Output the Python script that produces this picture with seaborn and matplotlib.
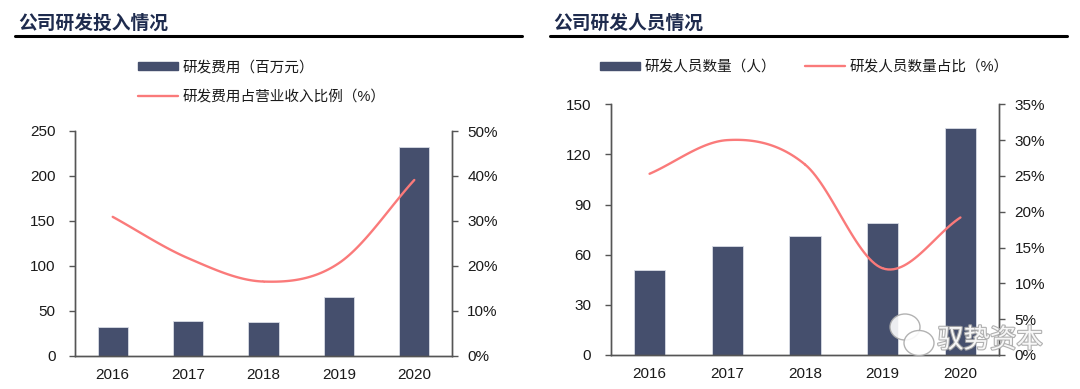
import numpy as np
import pandas as pd
import seaborn as sns
import matplotlib.pyplot as plt
import matplotlib.patheffects as pe
from matplotlib.lines import Line2D
from matplotlib.patches import Patch, Ellipse

# data
years = ['2016', '2017', '2018', '2019', '2020']
rd_cost = [31.5, 38.3, 37.2, 65.8, 232.5]          # 百万元
rd_cost_ratio = [30.9, 21.7, 16.5, 20.6, 39.1]     # %
rd_staff = [51, 65, 71, 79, 136]                   # 人
rd_staff_ratio = [25.3, 30.0, 26.6, 12.1, 19.2]    # %

BAR = '#454F6D'
LINE = '#FA7A7A'
TITLE = '#1E2B4E'
SPINE = '#555555'
TXT = '#1A1A1A'

sns.set_theme(style='white')
plt.rcParams['font.family'] = ['Liberation Sans', 'Noto Sans CJK SC']
plt.rcParams['axes.unicode_minus'] = False

W, H = 1080, 389
fig = plt.figure(figsize=(W / 100, H / 100), dpi=100)


def px_box(x0, y0, x1, y1):
    # pixel box (top-left origin) -> figure fraction
    return [x0 / W, 1 - y1 / H, (x1 - x0) / W, (y1 - y0) / H]


def smooth(xs, ys, n=30):
    # excel-like smoothed line (catmull-rom through the points)
    xs = np.asarray(xs, float)
    ys = np.asarray(ys, float)
    px = np.concatenate([[2 * xs[0] - xs[1]], xs, [2 * xs[-1] - xs[-2]]])
    py = np.concatenate([[2 * ys[0] - ys[1]], ys, [2 * ys[-1] - ys[-2]]])
    ox, oy = [], []
    t = np.linspace(0, 1, n)
    for i in range(1, len(px) - 2):
        for p, out in ((px, ox), (py, oy)):
            p0, p1, p2, p3 = p[i - 1], p[i], p[i + 1], p[i + 2]
            out.extend(0.5 * ((2 * p1) + (-p0 + p2) * t
                              + (2 * p0 - 5 * p1 + 4 * p2 - p3) * t ** 2
                              + (-p0 + 3 * p1 - 3 * p2 + p3) * t ** 3))
    return np.array(ox), np.array(oy)


def style_axes(ax, ax2):
    for a in (ax, ax2):
        a.spines['top'].set_visible(False)
        for s in ('left', 'right', 'bottom'):
            a.spines[s].set_color(SPINE)
            a.spines[s].set_linewidth(1.0)
        a.grid(False)
    ax.set_xlim(-0.5, 4.5)
    ax.set_xlabel('')
    ax.set_ylabel('')
    ax.tick_params(axis='x', which='major', length=0, pad=9, labelsize=11, colors=TXT)
    ax.set_xticks(np.arange(-0.5, 5, 1), minor=True)
    ax.tick_params(axis='x', which='minor', length=4, direction='out', color=SPINE, width=1)
    ax.tick_params(axis='y', length=4, direction='out', color=SPINE, width=1,
                   labelsize=11, colors=TXT, left=True, pad=10)
    ax2.tick_params(axis='y', length=4, direction='out', color=SPINE, width=1,
                    labelsize=11, colors=TXT, right=True, pad=7)


def header(x0, x1, text):
    fig.text(x0 + 3.5 / W, 1 - 23.5 / H, text, fontsize=13.5, fontweight='bold',
             color=TITLE, va='center', ha='left', family=['Noto Sans CJK SC'])
    fig.add_artist(Line2D([x0, x1], [1 - 36 / H] * 2, color='black', lw=2.2))


# ---------------- left: 研发投入 ----------------
ax = fig.add_axes(px_box(75, 131, 452, 355.7))
df1 = pd.DataFrame({'year': years, 'cost': rd_cost})
sns.barplot(data=df1, x='year', y='cost', color=BAR, width=0.4, ax=ax,
            edgecolor='#D8DCE6', linewidth=0.6, saturation=1)
ax.set_ylim(0, 250)
ax.set_yticks(range(0, 251, 50))
ax2 = ax.twinx()
sx, sy = smooth(range(len(years)), rd_cost_ratio)
ax2.plot(sx, sy, color=LINE, lw=1.7)
ax2.set_ylim(0, 50)
ax2.set_yticks(range(0, 51, 10))
ax2.set_yticklabels([f'{v}%' for v in range(0, 51, 10)])
style_axes(ax, ax2)

header(14.5 / W, 522 / W, '公司研发投入情况')
h1 = [Patch(color=BAR, label='研发费用（百万元）'),
      Line2D([], [], color=LINE, lw=1.7, label='研发费用占营业收入比例（%）')]
fig.legend(handles=h1, loc='center left', bbox_to_anchor=(138.3 / W, 1 - 82 / H),
           frameon=False, fontsize=10.5, handlelength=2.74, handleheight=0.5,
           handletextpad=0.3, labelspacing=1.04, borderpad=0, borderaxespad=0,
           labelcolor=TXT)

# ---------------- right: 研发人员 ----------------
bx = fig.add_axes(px_box(610.7, 104.3, 999.3, 355))
df2 = pd.DataFrame({'year': years, 'staff': rd_staff})
sns.barplot(data=df2, x='year', y='staff', color=BAR, width=0.4, ax=bx,
            edgecolor='#D8DCE6', linewidth=0.6, saturation=1)
bx.set_ylim(0, 150)
bx.set_yticks(range(0, 151, 30))
bx2 = bx.twinx()
sx, sy = smooth(range(len(years)), rd_staff_ratio)
bx2.plot(sx, sy, color=LINE, lw=1.7)
bx2.set_ylim(0, 35)
bx2.set_yticks(range(0, 36, 5))
bx2.set_yticklabels([f'{v}%' for v in range(0, 36, 5)])
style_axes(bx, bx2)

header(550 / W, 1067 / W, '公司研发人员情况')
h2 = [Patch(color=BAR, label='研发人员数量（人）'),
      Line2D([], [], color=LINE, lw=1.7, label='研发人员数量占比（%）')]
fig.legend(handles=h2, loc='center left', bbox_to_anchor=(600 / W, 1 - 67 / H),
           ncol=2, frameon=False, fontsize=10.5, handlelength=2.74, handleheight=0.5,
           handletextpad=0.3, columnspacing=2.0, borderpad=0, borderaxespad=0,
           labelcolor=TXT)

# watermark (wechat bubbles + account name)
for (cx, cy, w, h) in [(905, 327, 30, 26), (919, 343, 30, 25)]:
    fig.add_artist(Ellipse((cx / W, 1 - cy / H), w / W, h / H, facecolor='white',
                           edgecolor='#AAAAAA', lw=1.0, alpha=0.9))
fig.text(990 / W, 1 - 340 / H, '驭势资本', fontsize=19, color='white', alpha=0.9,
         ha='center', va='center', family=['Noto Sans CJK SC'],
         path_effects=[pe.withStroke(linewidth=1.6, foreground='#A8A8A8')])

fig.savefig('out.png', dpi=100)
